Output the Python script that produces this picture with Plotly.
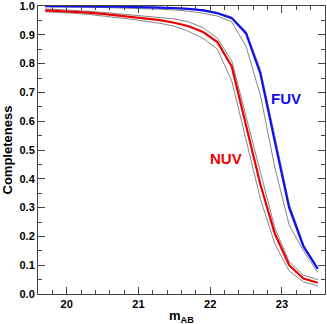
import plotly.graph_objects as go

# magnitude grid (AB)
mag = [19.7, 19.9, 20.1, 20.3, 20.5, 20.7, 20.9, 21.1, 21.3, 21.5,
       21.7, 21.9, 22.1, 22.3, 22.5, 22.7, 22.9, 23.1, 23.3, 23.5]

fuv = [1.0, 1.0, 1.0, 0.999, 0.999, 0.998, 0.997, 0.996, 0.995, 0.993,
       0.99, 0.985, 0.975, 0.958, 0.905, 0.765, 0.53, 0.30, 0.165, 0.087]
fuv_lo = [0.998, 0.998, 0.997, 0.996, 0.995, 0.994, 0.993, 0.991, 0.989, 0.986,
          0.982, 0.975, 0.965, 0.945, 0.86, 0.69, 0.44, 0.24, 0.15, 0.075]
fuv_hi = [1.0, 1.0, 1.0, 1.0, 0.999, 0.999, 0.998, 0.997, 0.996, 0.994,
          0.991, 0.987, 0.978, 0.962, 0.912, 0.78, 0.55, 0.315, 0.172, 0.09]

nuv = [0.985, 0.983, 0.98, 0.977, 0.973, 0.968, 0.963, 0.958, 0.951, 0.942,
       0.93, 0.91, 0.875, 0.79, 0.58, 0.38, 0.21, 0.10, 0.054, 0.039]
nuv_lo = [0.98, 0.978, 0.975, 0.971, 0.966, 0.96, 0.954, 0.947, 0.94, 0.93,
          0.912, 0.888, 0.85, 0.74, 0.53, 0.33, 0.175, 0.08, 0.042, 0.028]
nuv_hi = [0.99, 0.988, 0.985, 0.982, 0.978, 0.974, 0.97, 0.965, 0.96, 0.955,
          0.945, 0.925, 0.888, 0.81, 0.62, 0.42, 0.23, 0.112, 0.065, 0.05]

FONT = "Liberation Sans, Arial, Helvetica, sans-serif"

fig = go.Figure()
for ys in (fuv_lo, fuv_hi, nuv_lo, nuv_hi):
    fig.add_trace(go.Scatter(x=mag, y=ys, mode="lines",
                             line=dict(color="#666666", width=0.8), hoverinfo="skip"))
fig.add_trace(go.Scatter(x=mag, y=nuv, mode="lines", line=dict(color="#ee0000", width=2.2), name="NUV"))
fig.add_trace(go.Scatter(x=mag, y=fuv, mode="lines", line=dict(color="#1010ee", width=2.2), name="FUV"))

axis_common = dict(showline=True, linecolor="#444444", linewidth=1, mirror="allticks",
                   ticks="inside", ticklen=7, tickcolor="#444444", showgrid=False, zeroline=False,
                   automargin=False, ticklabeloverflow="allow",
                   tickfont=dict(family=FONT, size=11, color="black", weight="bold"))

fig.update_xaxes(range=[19.6, 23.6], dtick=1, tick0=20,
                 minor=dict(ticks="inside", dtick=0.2, ticklen=4, tickcolor="#444444"),
                 **axis_common)
fig.update_yaxes(range=[0, 1.0001], dtick=0.1, tickformat=".1f",
                 minor=dict(ticks="inside", dtick=0.05, ticklen=4, tickcolor="#444444"),
                 **axis_common)

fig.add_annotation(x=23.06, y=0.68, text="FUV", showarrow=False,
                   font=dict(family=FONT, size=15, color="#1010ee", weight="bold"))
fig.add_annotation(x=22.22, y=0.47, text="NUV", showarrow=False,
                   font=dict(family=FONT, size=15, color="#ee0000", weight="bold"))

fig.add_annotation(xref="paper", yref="paper", x=0.5, y=0, yshift=-12, yanchor="top",
                   text="m<sub>AB</sub>", showarrow=False,
                   font=dict(family=FONT, size=13, color="black", weight="bold"))
fig.add_annotation(xref="paper", yref="paper", x=0, xshift=-22, y=0.5, xanchor="right",
                   text="Completeness", textangle=-90, showarrow=False,
                   font=dict(family=FONT, size=13, color="black", weight="bold"))

fig.update_layout(width=327, height=324, showlegend=False,
                  margin=dict(l=38, r=2, t=6, b=30, autoexpand=False),
                  plot_bgcolor="white", paper_bgcolor="white")

fig.write_html("out.html", config={"displayModeBar": False},
               post_script="document.body.style.margin='0px';")
